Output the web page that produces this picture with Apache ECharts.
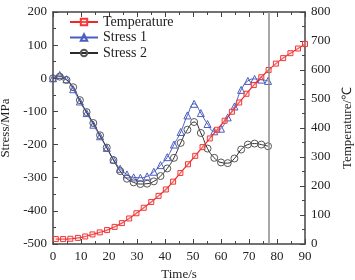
<!DOCTYPE html>
<html>
<head>
<meta charset="utf-8">
<script src="https://cdn.jsdelivr.net/npm/echarts@6/dist/echarts.min.js"></script>
<style>html,body{margin:0;padding:0;background:#fff}#c{width:355px;height:280px}</style>
</head>
<body>
<div id="c"></div>
<script>
// Temperature series (time in s, temperature in ℃)
const tempTime = [1, 3.6, 6.2, 8.9, 11.5, 14.1, 16.7, 19.3, 22, 24.6, 27.2, 29.8, 32.4, 35.1, 37.7, 40.3, 42.9, 45.5, 48.2, 50.8, 53.4, 56, 58.6, 61.3, 63.9, 66.5, 69.1, 71.7, 74.4, 77, 79.6, 82.2, 84.8, 87.5, 90];
const tempValues = [17, 17, 18, 21, 26, 33, 40, 48, 59, 72, 88, 106, 125, 145, 166, 188, 215, 245, 275, 304, 334, 364, 394, 425, 456, 488, 518, 548, 575, 600, 622, 641, 658, 674, 690];
// Stress series (time in s, stress in MPa)
const stressTime = [0, 2.4, 4.8, 7.2, 9.6, 12, 14.4, 16.8, 19.2, 21.6, 24, 26.4, 28.8, 31.2, 33.6, 36, 38.4, 40.8, 43.2, 45.6, 48, 50.4, 52.8, 55.2, 57.6, 60, 62.4, 64.8, 67.2, 69.6, 72, 74.4, 76.8];
const stress1 = [0, 10, -3, -33, -70, -105, -140, -175, -210, -245, -273, -290, -299, -300, -296, -282, -262, -238, -200, -162, -112, -77, -105, -138, -160, -152, -118, -85, -35, -8, -2, -4, -8];
const stress2 = [0, 5, -5, -27, -66, -102, -135, -172, -209, -247, -280, -303, -314, -319, -318, -311, -295, -272, -240, -195, -155, -132, -165, -212, -240, -254, -256, -242, -215, -200, -197, -200, -205];
const markTime = 77;
const seriesNames = ['Temperature', 'Stress 1', 'Stress 2'];
const xTicks = {min: 0, max: 90, interval: 10};
const yLeftTicks = {min: -500, max: 200, interval: 100};
const yRightTicks = {min: 0, max: 800, interval: 100};

const FONT = 'Liberation Serif';
const AX = '#444';
const pair = (t, v) => t.map((x, i) => [x, v[i]]);

const chart = echarts.init(document.getElementById('c'), null, {renderer: 'canvas'});
const tickStyle = () => ({
  axisLine: {show: true, onZero: false, lineStyle: {color: AX, width: 1.5}},
  axisTick: {show: true, inside: true, length: 5, lineStyle: {color: AX, width: 1}},
  minorTick: {show: true, splitNumber: 2, length: 3, lineStyle: {color: AX, width: 1}},
  splitLine: {show: false},
  axisLabel: {fontFamily: FONT, fontSize: 13, color: '#222', margin: 6},
  nameTextStyle: {fontFamily: FONT, fontSize: 13, color: '#222'}
});

chart.setOption({
  animation: false,
  grid: {left: 53, right: 50, top: 12, bottom: 36, containLabel: false, outerBoundsMode: 'none'},
  legend: {
    orient: 'vertical', left: 64, top: 10, itemGap: 1.5, itemWidth: 28, itemHeight: 8,
    textStyle: {fontFamily: FONT, fontSize: 14, color: '#222'},
    data: seriesNames
  },
  xAxis: [
    Object.assign(tickStyle(), {type: 'value', position: 'bottom', min: xTicks.min, max: xTicks.max, interval: xTicks.interval,
      name: 'Time/s', nameLocation: 'middle', nameGap: 14}),
    Object.assign(tickStyle(), {type: 'value', position: 'top', min: xTicks.min, max: xTicks.max, interval: xTicks.interval,
      axisLabel: {show: false}})
  ],
  yAxis: [
    Object.assign(tickStyle(), {type: 'value', position: 'left', min: yLeftTicks.min, max: yLeftTicks.max, interval: yLeftTicks.interval,
      name: 'Stress/MPa', nameLocation: 'middle', nameGap: 37, nameRotate: 90}),
    Object.assign(tickStyle(), {type: 'value', position: 'right', min: yRightTicks.min, max: yRightTicks.max, interval: yRightTicks.interval,
      name: 'Temperature/℃', nameLocation: 'middle', nameGap: 28, nameRotate: 90})
  ],
  series: [
    {
      name: seriesNames[0], type: 'line', yAxisIndex: 1, data: pair(tempTime, tempValues),
      symbol: 'rect', symbolSize: 5, smooth: true,
      lineStyle: {color: '#f02828', width: 1.2},
      itemStyle: {color: 'rgba(255,200,200,0.3)', borderColor: '#f03838', borderWidth: 1},
      z: 3
    },
    {
      name: seriesNames[1], type: 'line', yAxisIndex: 0, data: pair(stressTime, stress1),
      symbol: 'triangle', symbolSize: 7, smooth: true,
      lineStyle: {color: '#4a5cc0', width: 1},
      itemStyle: {color: 'rgba(255,255,255,0)', borderColor: '#4a5cc0', borderWidth: 1},
      markLine: {
        silent: true, symbol: ['none', 'none'], label: {show: false},
        lineStyle: {color: '#8a8a8a', type: 'solid', width: 1.5},
        data: [{xAxis: markTime}]
      },
      z: 2
    },
    {
      name: seriesNames[2], type: 'line', yAxisIndex: 0, data: pair(stressTime, stress2),
      symbol: 'circle', symbolSize: 7, smooth: true,
      lineStyle: {color: '#2a2a2a', width: 1},
      itemStyle: {color: 'rgba(255,255,255,0)', borderColor: '#555', borderWidth: 1},
      z: 2
    }
  ]
});
</script>
</body>
</html>
